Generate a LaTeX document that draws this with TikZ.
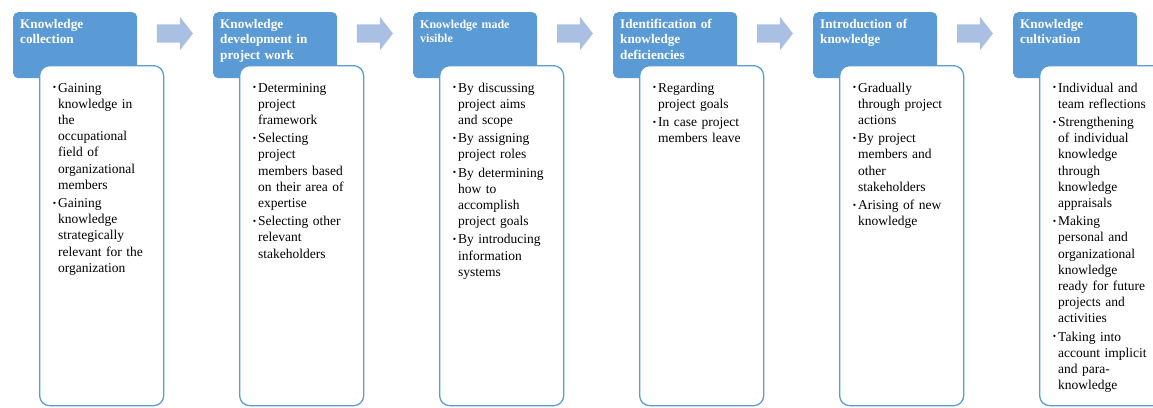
\documentclass[tikz,border=0pt]{standalone}
\usepackage{fontspec}
\setmainfont{Liberation Serif}
\usepackage{xcolor}
\usepackage{tikz}
\usetikzlibrary{shapes.arrows}
\definecolor{clrHead}{RGB}{91,155,213}
\definecolor{clrArr}{RGB}{170,192,226}
\newcommand{\itm}{\leavevmode\llap{\raisebox{1.2pt}{\fontsize{9.5}{9.5}\selectfont\textbullet}\hspace{2pt}}}
\tikzset{
  stagehead/.style={rectangle,rounded corners=5pt,fill=clrHead,text=white,
    font=\fontsize{13.2}{15.5}\selectfont\bfseries,anchor=north west,
    text width=110pt,align=left,inner xsep=7pt,inner ysep=0pt,
    text height=16pt,text depth=50pt},
  stagebox/.style={rectangle,rounded corners=10pt,draw=clrHead,line width=1.3pt,
    fill=white,anchor=north west,minimum width=124pt,minimum height=340pt,inner sep=0pt},
  items/.style={font=\fontsize{13.5}{16.2}\selectfont,text width=110pt,align=left,
    inner sep=0pt,anchor=base west},
  stagearrow/.style={single arrow,fill=clrArr,draw=none,minimum height=36pt,
    inner sep=9pt,single arrow head extend=7.5pt,single arrow tip angle=104,
    single arrow head indent=0pt}
}
\begin{document}
\begin{tikzpicture}[x=1pt,y=-1pt]
  \useasboundingbox (0,0) rectangle (1153,407);
  \clip (0,0) rectangle (1153,407);
  % stage headers
  \node[stagehead] (h1) at (13,12) {Knowledge\\collection};
  \node[stagehead] (h2) at (213,12) {Knowledge\\development in\\project work};
  \node[stagehead,font=\fontsize{12}{14}\selectfont\bfseries] (h3) at (413,12) {Knowledge made\\visible};
  \node[stagehead] (h4) at (613,12) {Identification of\\knowledge\\deficiencies};
  \node[stagehead] (h5) at (813,12) {Introduction of\\knowledge};
  \node[stagehead] (h6) at (1013,12) {Knowledge\\cultivation};
  % arrows between stages
  \node[stagearrow] (a1) at ([xshift=34pt,yshift=-21.5pt]h1.north east) {};
  \node[stagearrow] (a2) at ([xshift=34pt,yshift=-21.5pt]h2.north east) {};
  \node[stagearrow] (a3) at ([xshift=34pt,yshift=-21.5pt]h3.north east) {};
  \node[stagearrow] (a4) at ([xshift=34pt,yshift=-21.5pt]h4.north east) {};
  \node[stagearrow] (a5) at ([xshift=34pt,yshift=-21.5pt]h5.north east) {};
  % detail boxes
  \node[stagebox] (b1) at (39,65) {};
  \node[stagebox] (b2) at (239,65) {};
  \node[stagebox] (b3) at (439,65) {};
  \node[stagebox] (b4) at (639,65) {};
  \node[stagebox] (b5) at (839,65) {};
  \node[stagebox] (b6) at (1039,65) {};
  \node[items] (t1) at ([xshift=19pt,yshift=-27pt]b1.north west)
    {\itm Gaining\\ knowledge in\\ the\\ occupational\\ field of\\ organizational\\ members\\[2pt]
     \itm Gaining\\ knowledge\\ strategically\\ relevant for the\\ organization};
  \node[items] (t2) at ([xshift=19pt,yshift=-27pt]b2.north west)
    {\itm Determining\\ project\\ framework\\[2pt]
     \itm Selecting\\ project\\ members based\\ on their area of\\ expertise\\[2pt]
     \itm Selecting other\\ relevant\\ stakeholders};
  \node[items] (t3) at ([xshift=19pt,yshift=-27pt]b3.north west)
    {\itm By discussing\\ project aims\\ and scope\\[2pt]
     \itm By assigning\\ project roles\\[2pt]
     \itm By determining\\ how to\\ accomplish\\ project goals\\[2pt]
     \itm By introducing\\ information\\ systems};
  \node[items] (t4) at ([xshift=19pt,yshift=-27pt]b4.north west)
    {\itm Regarding\\ project goals\\[2pt]
     \itm In case project\\ members leave};
  \node[items] (t5) at ([xshift=19pt,yshift=-27pt]b5.north west)
    {\itm Gradually\\ through project\\ actions\\[2pt]
     \itm By project\\ members and\\ other\\ stakeholders\\[2pt]
     \itm Arising of new\\ knowledge};
  \node[items] (t6) at ([xshift=19pt,yshift=-27pt]b6.north west)
    {\itm Individual and\\ team reflections\\[2pt]
     \itm Strengthening\\ of individual\\ knowledge\\ through\\ knowledge\\ appraisals\\[2pt]
     \itm Making\\ personal and\\ organizational\\ knowledge\\ ready for future\\ projects and\\ activities\\[2pt]
     \itm Taking into\\ account implicit\\ and para-\\ knowledge};
\end{tikzpicture}
\end{document}
